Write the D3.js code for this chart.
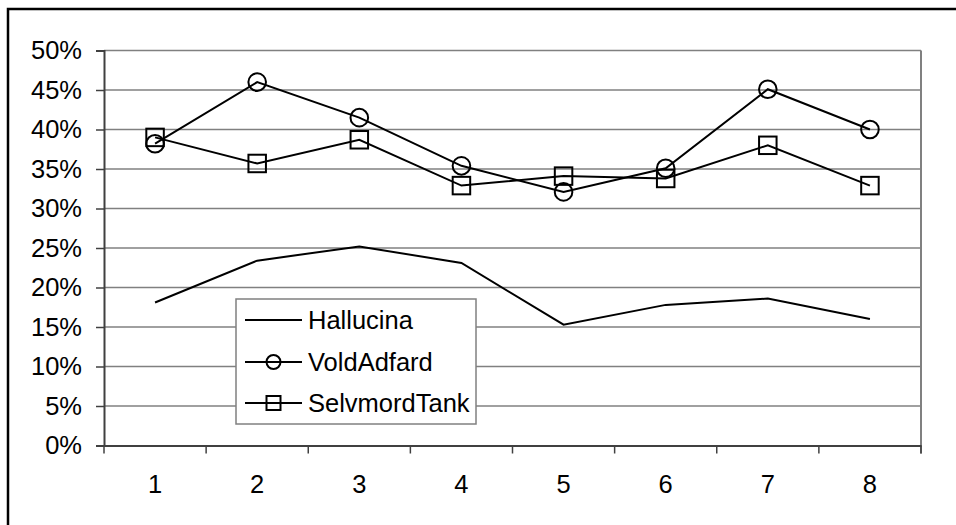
<!DOCTYPE html>
<html><head><meta charset="utf-8">
<script src="https://cdn.jsdelivr.net/npm/d3@7"></script>
<style>body{margin:0;background:#fff}svg{display:block}text{font-family:Arial,"Liberation Sans",sans-serif;fill:#000}</style>
</head><body><svg id="c" width="956" height="525"></svg>
<script>
const categories = ["1","2","3","4","5","6","7","8"];
const hallucina = [0.181, 0.234, 0.252, 0.231, 0.153, 0.178, 0.186, 0.160];
const voldAdfard = [0.382, 0.460, 0.415, 0.354, 0.321, 0.351, 0.451, 0.400];
const selvmordTank = [0.390, 0.357, 0.387, 0.329, 0.341, 0.338, 0.380, 0.329];
const seriesNames = ["Hallucina","VoldAdfard","SelvmordTank"];
const yTicks = [0,0.05,0.1,0.15,0.2,0.25,0.3,0.35,0.4,0.45,0.5];

const svg = d3.select("#c");
const L=104, R=921, T=50.5, B=445.5;
const x = d3.scaleBand().domain(categories).range([L,R]);
const y = d3.scaleLinear().domain([0,0.5]).range([B,T]);
const cx = d => x(d)+x.bandwidth()/2;
const FS = 25.5;

// outer border
svg.append("path").attr("d","M8,525 V9 H956").attr("fill","none").attr("stroke","#000").attr("stroke-width",2.5);

// gridlines
svg.append("g").selectAll("line").data(yTicks.slice(1)).join("line")
  .attr("x1",L).attr("x2",R).attr("y1",d=>y(d)).attr("y2",d=>y(d))
  .attr("stroke","#808080").attr("stroke-width",1.5);
// right border of plot
svg.append("line").attr("x1",R).attr("x2",R).attr("y1",T).attr("y2",B+8).attr("stroke","#808080").attr("stroke-width",2);

// y axis
const yAxis = svg.append("g").attr("transform",`translate(${L},0)`)
  .call(d3.axisLeft(y).tickValues(yTicks).tickFormat(d3.format(".0%")).tickSize(8).tickPadding(14));
yAxis.select(".domain").attr("stroke","#404040").attr("stroke-width",2);
yAxis.selectAll(".tick line").attr("stroke","#404040").attr("stroke-width",1.5);
yAxis.selectAll("text").attr("font-size",FS).attr("font-family","Arial, 'Liberation Sans', sans-serif").attr("fill","#000");

// x axis
const xAxis = svg.append("g").attr("transform",`translate(0,${B})`)
  .call(d3.axisBottom(x).tickSize(0).tickPadding(29));
xAxis.select(".domain").attr("stroke","#404040").attr("stroke-width",2);
xAxis.selectAll("text").attr("font-size",FS).attr("font-family","Arial, 'Liberation Sans', sans-serif").attr("fill","#000");
// x tick marks at category boundaries
const bounds = categories.map(c=>x(c)).concat([R]);
svg.append("g").selectAll("line").data(bounds).join("line")
  .attr("x1",d=>d).attr("x2",d=>d).attr("y1",B).attr("y2",B+8)
  .attr("stroke","#404040").attr("stroke-width",1.5);

const line = d3.line().x((d,i)=>cx(categories[i])).y(d=>y(d));
const all = [hallucina, voldAdfard, selvmordTank];
all.forEach(s=>{
  svg.append("path").datum(s).attr("d",line).attr("fill","none").attr("stroke","#000").attr("stroke-width",2);
});
// markers
svg.append("g").selectAll("circle").data(voldAdfard).join("circle")
  .attr("cx",(d,i)=>cx(categories[i])).attr("cy",d=>y(d)).attr("r",8.8)
  .attr("fill","none").attr("stroke","#000").attr("stroke-width",2);
const sq=17.5;
svg.append("g").selectAll("rect").data(selvmordTank).join("rect")
  .attr("x",(d,i)=>cx(categories[i])-sq/2).attr("y",d=>y(d)-sq/2).attr("width",sq).attr("height",sq)
  .attr("fill","none").attr("stroke","#000").attr("stroke-width",2);

// legend
const lg = svg.append("g");
lg.append("rect").attr("x",236).attr("y",299).attr("width",240).attr("height",125)
  .attr("fill","#fff").attr("stroke","#808080").attr("stroke-width",1.5);
const rows=[320,362,403];
seriesNames.forEach((n,i)=>{
  const yy=rows[i];
  lg.append("line").attr("x1",245).attr("x2",302).attr("y1",yy).attr("y2",yy).attr("stroke","#000").attr("stroke-width",2);
  if(i===1) lg.append("circle").attr("cx",273.5).attr("cy",yy).attr("r",7).attr("fill","none").attr("stroke","#000").attr("stroke-width",2);
  if(i===2) lg.append("rect").attr("x",266.5).attr("y",yy-7).attr("width",14).attr("height",14).attr("fill","none").attr("stroke","#000").attr("stroke-width",2);
  lg.append("text").attr("x",308).attr("y",yy).attr("dy","0.35em").attr("font-size",FS).text(n);
});
</script></body></html>
